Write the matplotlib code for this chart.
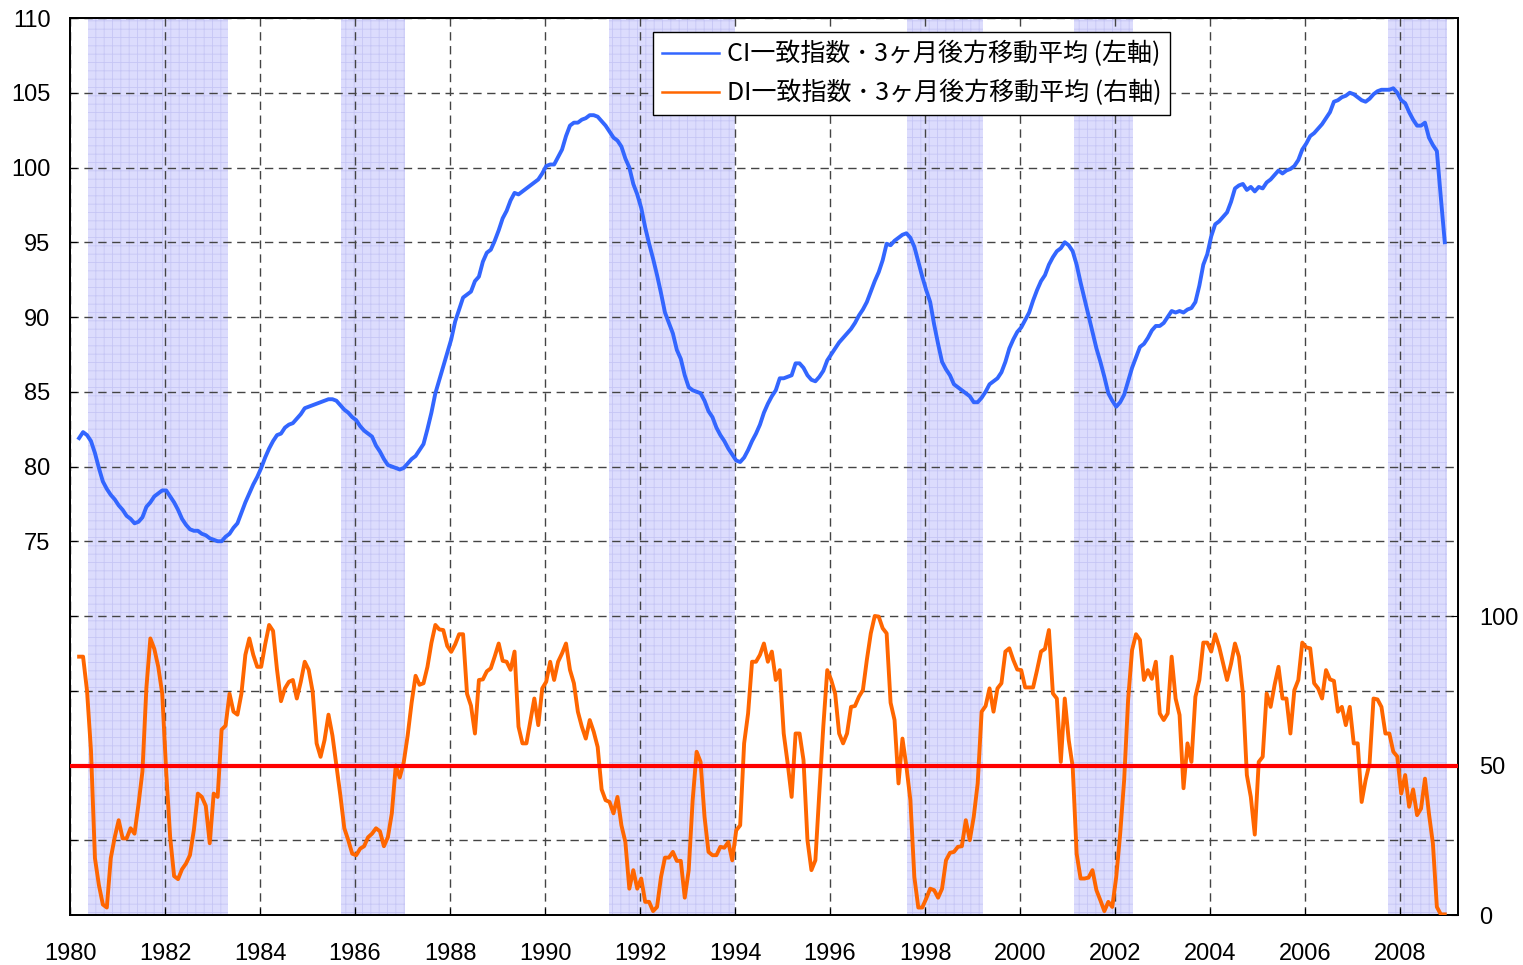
import numpy as np
import pandas as pd
import matplotlib
matplotlib.use('Agg')
import matplotlib.pyplot as plt
from matplotlib.lines import Line2D

plt.rcParams['font.family'] = ['Noto Sans CJK JP', 'DejaVu Sans']
plt.rcParams['hatch.linewidth'] = 0.6

#--------------------------------------------#
# data: monthly, Mar 1980 - Dec 2008
months = pd.date_range('1980-03-01', '2008-12-01', freq='MS')

# CI coincident index, 3-month backward moving average (left axis)
ci = [81.9, 82.3, 82.1, 81.7, 80.9, 79.9, 79.0, 78.5, 78.1, 77.8,                 # 1980
      77.4, 77.1, 76.7, 76.5, 76.2, 76.3, 76.6, 77.3, 77.6, 78.0, 78.2, 78.4,     # 1981
      78.4, 78.0, 77.6, 77.1, 76.5, 76.1, 75.8, 75.7, 75.7, 75.5, 75.4, 75.2,     # 1982
      75.1, 75.0, 75.0, 75.3, 75.5, 75.9, 76.2, 76.9, 77.6, 78.2, 78.8, 79.3,     # 1983
      79.9, 80.6, 81.2, 81.7, 82.1, 82.2, 82.6, 82.8, 82.9, 83.2, 83.5, 83.9,     # 1984
      84.0, 84.1, 84.2, 84.3, 84.4, 84.5, 84.5, 84.4, 84.1, 83.8, 83.6, 83.3,     # 1985
      83.1, 82.7, 82.4, 82.2, 82.0, 81.4, 81.0, 80.5, 80.1, 80.0, 79.9, 79.8,     # 1986
      79.9, 80.2, 80.5, 80.7, 81.1, 81.5, 82.5, 83.6, 84.9, 85.8, 86.7, 87.6,     # 1987
      88.5, 89.7, 90.5, 91.3, 91.5, 91.7, 92.4, 92.7, 93.7, 94.3, 94.5, 95.1,     # 1988
      95.8, 96.6, 97.1, 97.8, 98.3, 98.2, 98.4, 98.6, 98.8, 99.0, 99.2, 99.6,     # 1989
      100.1, 100.2, 100.2, 100.7, 101.2, 102.1, 102.8, 103.0, 103.0, 103.2, 103.3, 103.5,  # 1990
      103.5, 103.4, 103.1, 102.8, 102.4, 102.0, 101.8, 101.4, 100.6, 100.0, 98.9, 98.2,    # 1991
      97.3, 96.0, 94.9, 93.9, 92.8, 91.6, 90.3, 89.6, 88.9, 87.8, 87.2, 86.1,     # 1992
      85.3, 85.1, 85.0, 84.9, 84.4, 83.7, 83.3, 82.6, 82.1, 81.7, 81.2, 80.8,     # 1993
      80.4, 80.3, 80.6, 81.1, 81.7, 82.2, 82.8, 83.6, 84.2, 84.7, 85.1, 85.9,     # 1994
      85.9, 86.0, 86.1, 86.9, 86.9, 86.6, 86.1, 85.8, 85.7, 86.0, 86.4, 87.1,     # 1995
      87.5, 87.9, 88.3, 88.6, 88.9, 89.2, 89.6, 90.1, 90.5, 91.0, 91.7, 92.4,     # 1996
      93.0, 93.8, 94.9, 94.8, 95.1, 95.3, 95.5, 95.6, 95.3, 94.7, 93.7, 92.7,     # 1997
      91.8, 91.0, 89.5, 88.2, 87.0, 86.5, 86.1, 85.5, 85.3, 85.1, 84.9, 84.7,     # 1998
      84.3, 84.3, 84.6, 85.0, 85.5, 85.7, 85.9, 86.3, 87.0, 87.9, 88.5, 89.0,     # 1999
      89.3, 89.8, 90.3, 91.1, 91.8, 92.4, 92.8, 93.5, 94.0, 94.4, 94.6, 95.0,     # 2000
      94.8, 94.4, 93.5, 92.3, 91.2, 90.1, 89.0, 87.9, 87.0, 86.0, 84.9, 84.4,     # 2001
      84.0, 84.3, 84.8, 85.7, 86.6, 87.3, 88.0, 88.2, 88.6, 89.1, 89.4, 89.4,     # 2002
      89.6, 90.0, 90.4, 90.3, 90.4, 90.3, 90.5, 90.6, 91.0, 92.1, 93.5, 94.2,     # 2003
      95.4, 96.2, 96.4, 96.7, 97.0, 97.7, 98.6, 98.8, 98.9, 98.5, 98.7, 98.4,     # 2004
      98.7, 98.6, 99.0, 99.2, 99.5, 99.8, 99.6, 99.8, 99.9, 100.1, 100.5, 101.2,  # 2005
      101.6, 102.1, 102.3, 102.6, 102.9, 103.3, 103.7, 104.4, 104.5, 104.7, 104.8, 105.0,  # 2006
      104.9, 104.7, 104.5, 104.4, 104.6, 104.9, 105.1, 105.2, 105.2, 105.2, 105.3, 105.0,  # 2007
      104.5, 104.3, 103.7, 103.2, 102.8, 102.8, 103.0, 102.0, 101.5, 101.1, 98.0, 95.0]    # 2008

# DI coincident index, 3-month backward moving average (right axis)
di = [86.4, 86.4, 75, 55, 19, 10, 3.5, 2.5, 19, 26,                          # 1980
      31.7, 25.6, 25.6, 29, 27.2, 37, 48, 76, 92.5, 89, 83, 74,              # 1981
      48, 26, 13, 12, 15.3, 17.2, 20, 28.5, 40.6, 39.5, 36.5, 24,            # 1982
      40.6, 39.5, 62, 63.3, 74, 68, 67, 74, 87, 92.5, 87, 83,                # 1983
      83, 90.5, 97, 95, 82, 71.5, 75.8, 78, 78.6, 72.4, 78, 84.7,            # 1984
      82, 74.7, 57.4, 52.9, 58.5, 67, 60, 50, 40, 29, 25, 20.5,              # 1985
      20, 22.2, 23, 26, 27.2, 29, 28, 23, 26, 34, 50, 46,                    # 1986
      51, 60, 71, 80, 77, 77.5, 83, 91, 97, 95.5, 95.3, 90,                  # 1987
      88, 90.5, 93.9, 93.9, 74, 70, 60.7, 78.6, 78.8, 81.5, 82.5, 86.5,      # 1988
      90.8, 85, 84.7, 82, 88.1, 63, 57.4, 57.4, 65, 72.4, 63.5, 75.8,        # 1989
      78, 84.7, 78.6, 84.7, 87.5, 90.8, 82, 77.5, 68, 63, 59, 65.2,          # 1990
      61.3, 56.2, 42, 38.4, 37.8, 34, 39.5, 30, 24.4, 8.8, 15, 8.8,          # 1991
      12.2, 4.4, 4.4, 1.3, 2.7, 12.7, 19.2, 19.2, 21.1, 18.1, 18.1, 5.8,     # 1992
      15, 38.4, 54.6, 51.2, 32.8, 21.1, 20, 20, 22.8, 22.5, 24.4, 18.3,      # 1993
      28.3, 30, 57.4, 67.4, 84.7, 84.7, 87, 90.8, 84.7, 88.1, 78.6, 81.9,    # 1994
      60.7, 50.7, 39.5, 60.7, 60.7, 51.8, 25, 15, 18.3, 41, 63, 81.9,        # 1995
      78.6, 74, 60.7, 57.4, 60.7, 69.6, 69.9, 73, 75.2, 85.3, 94.2, 100,     # 1996
      99.8, 95.9, 94.2, 71, 65.2, 44, 59, 49.6, 38.4, 12.7, 2.5, 2.5,        # 1997
      5.5, 8.8, 8.3, 5.8, 8.8, 18.3, 20.8, 21.1, 22.8, 23, 31.7, 25,         # 1998
      32.8, 44, 68, 69.9, 75.8, 68, 75.8, 77.5, 88.1, 89.2, 85.3, 82.1,      # 1999
      81.9, 76.1, 76.1, 76.1, 81.9, 88.1, 89, 95.3, 74.1, 72.4, 51.2, 72.4,  # 2000
      58.5, 49.6, 20.5, 12.2, 12.2, 12.5, 15, 8.3, 4.9, 1.3, 4.4, 2.7,       # 2001
      12.7, 27.2, 45.1, 71.9, 88.6, 93.9, 92, 78.6, 81.9, 79, 84.7, 67.4,    # 2002
      65.2, 67.4, 86.4, 72.4, 66.9, 42.4, 57.4, 51.2, 73, 78.6, 91.1, 91.1,  # 2003
      88.1, 93.9, 89.7, 84.2, 78.6, 84, 90.8, 86.4, 74.1, 46.8, 39.5, 26.9,  # 2004
      51.2, 52.9, 74.1, 69.6, 76.9, 83, 72.4, 72.4, 60.7, 75.2, 78.6, 91.1,  # 2005
      89.5, 89.2, 77.5, 75.8, 72.4, 81.9, 78.8, 78.3, 68, 69.6, 63.5, 69.6,  # 2006
      57.4, 57.4, 37.8, 45.1, 50.7, 72.4, 72.1, 69.6, 60.7, 60.7, 54.6, 53,  # 2007
      40.6, 46.8, 36.2, 42, 33.4, 35.6, 45.6, 33.9, 23.9, 2.7, 0.2, 0.2]     # 2008

# shaded recession periods (decimal years)
rec_start = [1980.37, 1985.71, 1991.34, 1997.61, 2001.13, 2007.74]
rec_end = [1983.32, 1987.05, 1993.99, 1999.23, 2002.38, 2008.99]

labels = ['CI一致指数 ･ 3ヶ月後方移動平均 (左軸)', 'DI一致指数 ･ 3ヶ月後方移動平均 (右軸)']
ci_color = '#3366ff'
di_color = '#ff6600'

x = months.year + (months.month - 1 + 0.3) / 12

#--------------------------------------------#
# figure
fig = plt.figure(figsize=(15.23, 9.65), dpi=100)
ax = fig.add_axes([70/1523, 50/965, 1388/1523, 897/965])
ax2 = ax.twinx()

for s, e in zip(rec_start, rec_end):
    ax.axvspan(s, e, facecolor='#dcdcfd', edgecolor='#c6c6f5', hatch='++',
               lw=0, zorder=0)

ax.plot(x, ci, color=ci_color, lw=2.8, zorder=3)
ax.set_xlim(1980, 2009.22)
ax.set_ylim(50, 110)
ax.set_yticks(np.arange(55, 111, 5))
ax.set_yticklabels([str(v) if v >= 75 else '' for v in range(55, 111, 5)])
ax.set_xticks(range(1980, 2009, 2))
ax.grid(True, ls=(0, (6, 4)), color='#444444', lw=1)
ax.set_axisbelow(False)
ax.tick_params(axis='y', direction='in', length=5, labelsize=17, pad=14,
               labelfontfamily='Liberation Sans')
ax.tick_params(axis='x', direction='in', length=5, labelsize=17, pad=20,
               labelfontfamily='Liberation Sans')

ax2.plot(x, di, color=di_color, lw=2.8, zorder=3)
ax2.axhline(50, color='#ff0000', lw=3, zorder=4)
ax2.set_ylim(0, 300)
ax2.set_yticks([0, 50, 100])
ax2.tick_params(axis='y', direction='in', length=5, labelsize=17, pad=15,
                labelfontfamily='Liberation Sans')

for a in (ax, ax2):
    for sp in a.spines.values():
        sp.set_linewidth(1.3)

handles = [Line2D([], [], color=ci_color, lw=1.8),
           Line2D([], [], color=di_color, lw=1.8)]
leg = ax2.legend(handles, labels, loc='upper left', bbox_to_anchor=(0.42, 0.984),
                 frameon=True, fancybox=False, edgecolor='black', framealpha=1,
                 fontsize=18, handlelength=2.3, borderpad=0.35,
                 labelspacing=0.5, handletextpad=0.3, borderaxespad=0)
leg.get_frame().set_linewidth(1)

fig.savefig('out.png', dpi=100)
